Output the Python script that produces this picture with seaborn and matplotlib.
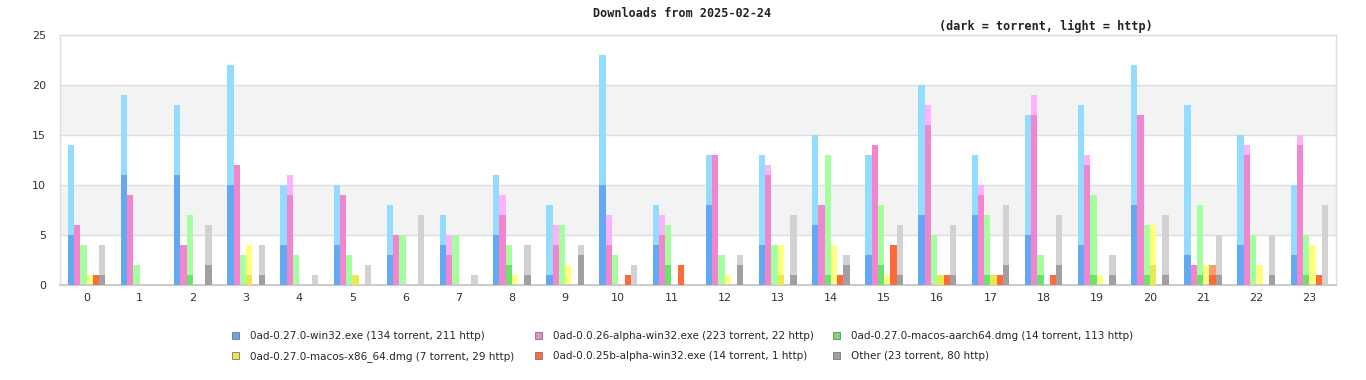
import numpy as np
import pandas as pd
import matplotlib
matplotlib.use('Agg')
import matplotlib.pyplot as plt
import seaborn as sns
from matplotlib.patches import Patch

hours = list(range(24))

series_names = [
    '0ad-0.27.0-win32.exe (134 torrent, 211 http)',
    '0ad-0.0.26-alpha-win32.exe (223 torrent, 22 http)',
    '0ad-0.27.0-macos-aarch64.dmg (14 torrent, 113 http)',
    '0ad-0.27.0-macos-x86_64.dmg (7 torrent, 29 http)',
    '0ad-0.0.25b-alpha-win32.exe (14 torrent, 1 http)',
    'Other (23 torrent, 80 http)',
]

# totals (torrent + http) per hour
win32_total = [14, 19, 18, 22, 10, 10, 8, 7, 11, 8, 23, 8, 13, 13, 15, 13, 20, 13, 17, 18, 22, 18, 15, 10]
a26_total = [6, 9, 4, 12, 11, 9, 5, 5, 9, 6, 7, 7, 13, 12, 8, 14, 18, 10, 19, 13, 17, 2, 14, 15]
aarch64_total = [4, 2, 7, 3, 3, 3, 5, 5, 4, 6, 3, 6, 3, 4, 13, 8, 5, 7, 3, 9, 6, 8, 5, 5]
x86_total = [1, 0, 0, 4, 0, 1, 0, 0, 1, 2, 0, 0, 1, 4, 4, 1, 1, 1, 0, 1, 6, 2, 2, 4]
a25b_total = [1, 0, 0, 0, 0, 0, 0, 0, 0, 0, 1, 2, 0, 0, 1, 4, 1, 1, 1, 0, 0, 2, 0, 1]
other_total = [4, 0, 6, 4, 1, 2, 7, 1, 4, 4, 2, 0, 3, 7, 3, 6, 6, 8, 7, 3, 7, 5, 5, 8]

# torrent part per hour
win32_torrent = [5, 11, 11, 10, 4, 4, 3, 4, 5, 1, 10, 4, 8, 4, 6, 3, 7, 7, 5, 4, 8, 3, 4, 3]
a26_torrent = [6, 9, 4, 12, 9, 9, 5, 3, 7, 4, 4, 5, 13, 11, 8, 14, 16, 9, 17, 12, 17, 2, 13, 14]
aarch64_torrent = [0, 0, 1, 0, 0, 0, 0, 0, 2, 0, 0, 2, 0, 0, 1, 2, 0, 1, 1, 1, 1, 1, 0, 1]
x86_torrent = [0, 0, 0, 1, 0, 1, 0, 0, 0, 0, 0, 0, 0, 1, 0, 0, 1, 1, 0, 0, 2, 0, 0, 0]
a25b_torrent = [1, 0, 0, 0, 0, 0, 0, 0, 0, 0, 1, 2, 0, 0, 1, 4, 1, 1, 1, 0, 0, 1, 0, 1]
other_torrent = [1, 0, 2, 1, 0, 0, 0, 0, 1, 3, 0, 0, 2, 1, 2, 1, 1, 2, 2, 1, 1, 1, 1, 0]

dark_colors = ['#62a8f2', '#f285ce', '#69e36c', '#e8e84f', '#ff6a3a', '#a0a0a0']
light_colors = ['#94dcff', '#fcb3fc', '#a3ff9f', '#ffff80', '#ff9b73', '#d2d2d2']

totals = [win32_total, a26_total, aarch64_total, x86_total, a25b_total, other_total]
torrents = [win32_torrent, a26_torrent, aarch64_torrent, x86_torrent, a25b_torrent, other_torrent]

rows = []
for name, tot, tor in zip(series_names, totals, torrents):
    for h, t, d in zip(hours, tot, tor):
        rows.append({'hour': h, 'series': name, 'total': t, 'torrent': d})
df = pd.DataFrame(rows)

sns.set_style('white')
plt.rcParams['font.family'] = ['DejaVu Sans']

fig = plt.figure(figsize=(13.66, 3.8), dpi=100)
ax = fig.add_axes([60 / 1366, 95 / 380, 1276 / 1366, 250 / 380])

# alternating bands + grid
for lo in (5, 15):
    ax.axhspan(lo, lo + 5, color='#f3f3f3', zorder=0, lw=0)
for y in (5, 10, 15, 20, 25):
    ax.axhline(y, color='#dddddd', lw=1, zorder=0.5)

# light = total (torrent + http), dark = torrent drawn on top
sns.barplot(data=df, x='hour', y='total', hue='series', hue_order=series_names,
            palette=light_colors, width=0.71, gap=0, dodge=True, linewidth=0,
            saturation=1, errorbar=None, legend=False, ax=ax, zorder=2)
sns.barplot(data=df, x='hour', y='torrent', hue='series', hue_order=series_names,
            palette=dark_colors, width=0.71, gap=0, dodge=True, linewidth=0,
            saturation=1, errorbar=None, legend=False, ax=ax, zorder=3)

ax.set_xlim(-0.5, 23.5)
ax.set_ylim(0, 25)
ax.set_yticks([0, 5, 10, 15, 20, 25])
ax.set_xlabel('')
ax.set_ylabel('')
ax.tick_params(axis='both', length=0, labelsize=8, colors='#333333')
ax.tick_params(axis='x', pad=6)
ax.tick_params(axis='y', pad=10)
for s in ('top', 'left', 'right'):
    ax.spines[s].set_color('#dddddd')
    ax.spines[s].set_linewidth(1)
ax.spines['bottom'].set_color('#cccccc')
ax.spines['bottom'].set_linewidth(1.5)

fig.text(682 / 1366, 1 - 13.5 / 380, 'Downloads from 2025-02-24', ha='center', va='center',
         family='DejaVu Sans Mono', fontsize=8.5, fontweight='bold', color='#222222')
fig.text(1153 / 1366, 1 - 26 / 380, '(dark = torrent, light = http)', ha='right', va='center',
         family='DejaVu Sans Mono', fontsize=8.5, fontweight='bold', color='#222222')

# legend: three columns placed like the original
handles = [Patch(facecolor=c, edgecolor='#777777', lw=0.6) for c in dark_colors]
col_x = [232, 535, 833]
for col, (i, j) in enumerate([(0, 3), (1, 4), (2, 5)]):
    fig.legend([handles[i], handles[j]], [series_names[i], series_names[j]],
               loc='upper left', bbox_to_anchor=(col_x[col] / 1366, 1 - 331 / 380),
               frameon=False, fontsize=7.5, handlelength=0.7, handleheight=0.7,
               handletextpad=1.05, labelspacing=1.0, borderpad=0, borderaxespad=0)

fig.savefig('out.png', dpi=100)
